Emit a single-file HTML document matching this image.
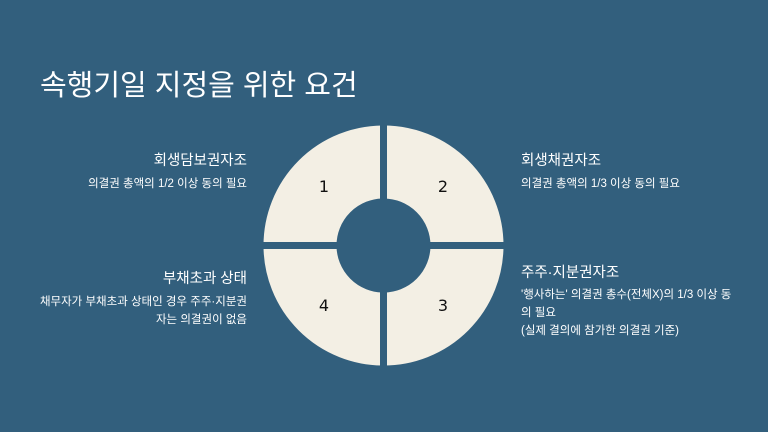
<!DOCTYPE html>
<html><head><meta charset="utf-8"><style>
body{margin:0;width:768px;height:432px;background:#325f7d;overflow:hidden;position:relative;font-family:"Liberation Sans","Noto Sans CJK KR",sans-serif;color:#fff}
.t{position:absolute;white-space:nowrap}
.h{font-size:14.5px}
.d{font-size:11.5px;line-height:18px}
.r{text-align:right}
</style></head><body>
<div class="t" style="left:40px;top:62px;font-size:29px">속행기일 지정을 위한 요건</div>
<div class="t h r" style="right:521px;top:149px">회생담보권자조</div>
<div class="t d r" style="right:521px;top:175px">의결권 총액의 1/2 이상 동의 필요</div>
<div class="t h r" style="right:521px;top:267px">부채초과 상태</div>
<div class="t d r" style="right:521px;top:293px">채무자가 부채초과 상태인 경우 주주·지분권<br>자는 의결권이 없음</div>
<div class="t h" style="left:521px;top:149px">회생채권자조</div>
<div class="t d" style="left:521px;top:175px">의결권 총액의 1/3 이상 동의 필요</div>
<div class="t h" style="left:521px;top:261px">주주·지분권자조</div>
<div class="t d" style="left:521px;top:286px">'행사하는' 의결권 총수(전체X)의 1/3 이상 동<br>의 필요<br>(실제 결의에 참가한 의결권 기준)</div>
<svg width="768" height="432" style="position:absolute;left:0;top:0">
<circle cx="383.5" cy="245.5" r="83.5" fill="none" stroke="#f3efe4" stroke-width="73"/>
<rect x="380" y="110" width="7" height="280" fill="#325f7d"/>
<rect x="250" y="242" width="270" height="7" fill="#325f7d"/>
<g font-family="DejaVu Sans,sans-serif" font-size="16" fill="#111" text-anchor="middle">
<text x="324" y="192">1</text><text x="443" y="192">2</text>
<text x="324" y="311">4</text><text x="443" y="311">3</text>
</g></svg>
</body></html>
